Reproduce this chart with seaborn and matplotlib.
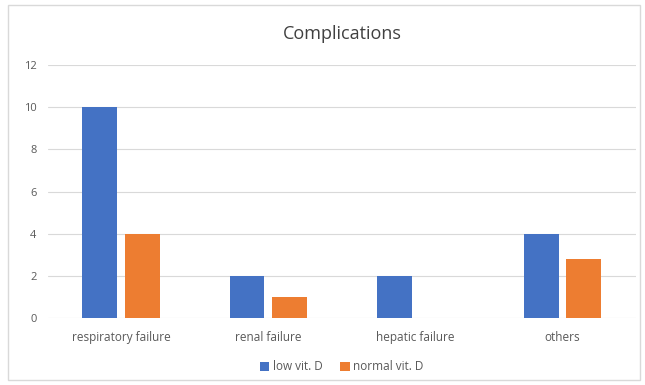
import pandas as pd
import matplotlib
matplotlib.use("Agg")
import matplotlib.pyplot as plt
import seaborn as sns
from matplotlib.patches import Rectangle

categories = ['respiratory failure', 'renal failure', 'hepatic failure', 'others']
low_vit_d = [10, 2, 2, 4]
normal_vit_d = [4, 1, 0, 2.8]
series = ['low vit. D', 'normal vit. D']

df = pd.DataFrame({
    'complication': categories * 2,
    'count': low_vit_d + normal_vit_d,
    'group': [series[0]] * len(categories) + [series[1]] * len(categories),
})

sns.set_style("white")
plt.rcParams['font.family'] = ['Open Sans', 'DejaVu Sans']

fig = plt.figure(figsize=(6.45, 3.85), dpi=100)
ax = fig.add_axes([0.074, 0.174, 0.912, 0.657])

sns.barplot(data=df, x='complication', y='count', hue='group',
            palette=['#4472C4', '#ED7D31'], width=0.58, gap=0.18,
            saturation=1, linewidth=0, ax=ax, legend=True)

ax.set_ylim(0, 12)
ax.set_yticks(range(0, 13, 2))
ax.yaxis.grid(True, color='#D9D9D9', linewidth=0.8)
ax.set_axisbelow(True)
for s in ax.spines.values():
    s.set_visible(False)
ax.set_xlabel('')
ax.set_ylabel('')
ax.tick_params(axis='y', length=0, labelsize=8, colors='#595959', pad=8)
ax.tick_params(axis='x', length=0, labelsize=8.5, colors='#595959', pad=9)
ax.set_title('Complications', fontsize=13, color='#404040', pad=19)

leg = ax.legend(loc='upper center', bbox_to_anchor=(0.5, -0.125), ncol=2,
                frameon=False, fontsize=8.5, handlelength=0.8, handleheight=0.8,
                handletextpad=0.3, columnspacing=1.5)
for t in leg.get_texts():
    t.set_color('#595959')

fig.patches.append(Rectangle((8 / 645, 5 / 385), 632 / 645, 375 / 385,
                             transform=fig.transFigure, fill=False,
                             edgecolor='#D9D9D9', linewidth=1))

fig.savefig('out.png', dpi=100)
